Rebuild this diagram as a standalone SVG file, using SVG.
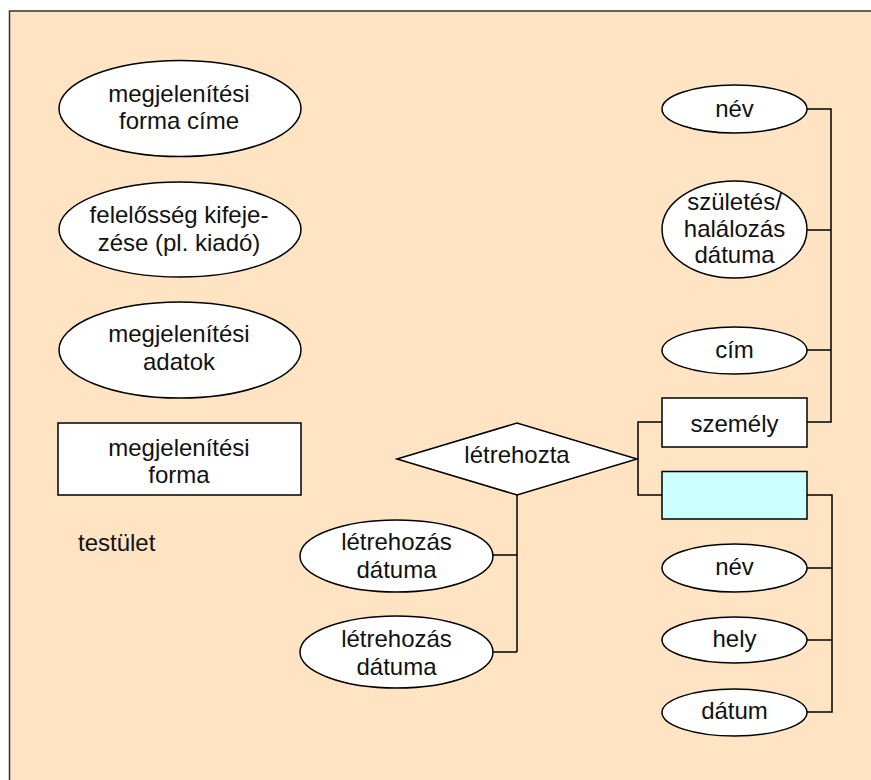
<svg xmlns="http://www.w3.org/2000/svg" width="871" height="780" viewBox="0 0 871 780">
<style>
.shape{fill:#ffffff;stroke:#000000;stroke-width:1.5}
.ent2{fill:#ccffff;stroke:#000000;stroke-width:1.5}
.conn{fill:none;stroke:#000000;stroke-width:1.5}
text{font-family:"Liberation Sans",Arial,sans-serif;font-size:24px;fill:#111111;text-anchor:middle}
</style>
<rect x="0" y="0" width="871" height="780" fill="#ffffff"/>
<rect id="frame" x="9.5" y="11" width="880" height="790" fill="#ffe4c4" stroke="#333333" stroke-width="1.5"/>
<g id="connectors">
<path class="conn" d="M517,495 V652 M493,555 H517 M493,652 H517"/>
<path class="conn" d="M807,109 H831 V422 H807 M807,230 H831 M807,350 H831"/>
<path class="conn" d="M662,422 H638 V495 H662"/>
<path class="conn" d="M807,495 H832 V712 H807 M807,568 H832 M807,640 H832"/>
</g>
<g id="n_megj_forma_cime">
<ellipse class="shape" cx="180" cy="108.5" rx="121" ry="48"/>
<text x="179" y="102">megjelenítési</text>
<text x="179" y="129">forma címe</text>
</g>
<g id="n_felelosseg">
<ellipse class="shape" cx="180" cy="229.5" rx="121" ry="47.5"/>
<text x="179" y="223">felelősség kifeje-</text>
<text x="179" y="251">zése (pl. kiadó)</text>
</g>
<g id="n_megj_adatok">
<ellipse class="shape" cx="180" cy="350" rx="121" ry="48"/>
<text x="179" y="342">megjelenítési</text>
<text x="179" y="370">adatok</text>
</g>
<g id="n_megj_forma">
<rect class="shape" x="58" y="423" width="243" height="72"/>
<text x="179" y="456">megjelenítési</text>
<text x="179" y="483">forma</text>
</g>
<g id="n_testulet">
<text x="78" y="551" style="text-anchor:start">testület</text>
</g>
<g id="n_letrehozta">
<polygon class="shape" points="397,459 517,423 637,459 517,495"/>
<text x="517" y="463">létrehozta</text>
</g>
<g id="n_letrehozas1">
<ellipse class="shape" cx="396.5" cy="556" rx="96.5" ry="36"/>
<text x="396.5" y="550">létrehozás</text>
<text x="396.5" y="578">dátuma</text>
</g>
<g id="n_letrehozas2">
<ellipse class="shape" cx="396.5" cy="652" rx="96.5" ry="36"/>
<text x="396.5" y="647">létrehozás</text>
<text x="396.5" y="675">dátuma</text>
</g>
<g id="n_nev1">
<ellipse class="shape" cx="734.5" cy="109" rx="72.5" ry="24"/>
<text x="734.5" y="117">név</text>
</g>
<g id="n_szuletes">
<ellipse class="shape" cx="734.5" cy="229.5" rx="72.5" ry="48.5"/>
<text x="734.5" y="210">születés/</text>
<text x="734.5" y="237">halálozás</text>
<text x="734.5" y="263">dátuma</text>
</g>
<g id="n_cim">
<ellipse class="shape" cx="734.5" cy="350.5" rx="72.5" ry="23.5"/>
<text x="734.5" y="358">cím</text>
</g>
<g id="n_szemely">
<rect class="shape" x="662" y="398" width="145" height="49"/>
<text x="734.5" y="432">személy</text>
</g>
<g id="n_entity2">
<rect class="ent2" x="662" y="471.5" width="145" height="47.5"/>
</g>
<g id="n_nev2">
<ellipse class="shape" cx="734.5" cy="568" rx="72.5" ry="24"/>
<text x="734.5" y="575">név</text>
</g>
<g id="n_hely">
<ellipse class="shape" cx="734.5" cy="640" rx="72.5" ry="23"/>
<text x="734.5" y="647">hely</text>
</g>
<g id="n_datum">
<ellipse class="shape" cx="734.5" cy="712.5" rx="72.5" ry="23.5"/>
<text x="734.5" y="719">dátum</text>
</g>
</svg>
